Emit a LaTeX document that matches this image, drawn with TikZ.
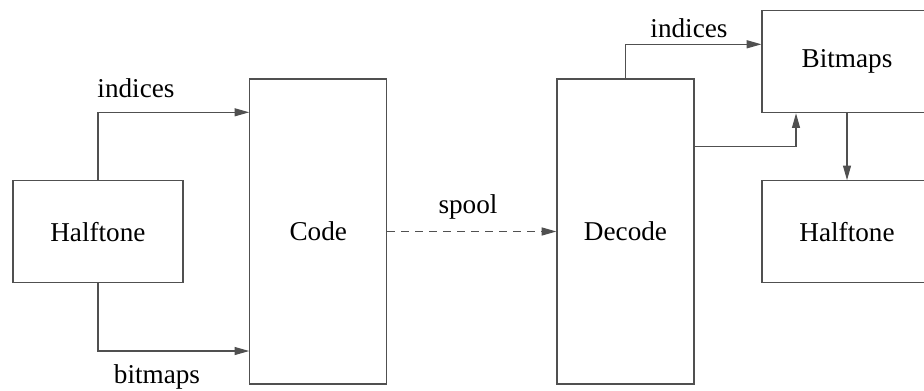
\documentclass[tikz,border=0pt]{standalone}
\usepackage{fontspec}
\setmainfont{Liberation Serif}
\usetikzlibrary{arrows.meta}

\definecolor{linegray}{RGB}{80,80,80}

\tikzset{every picture/.style={line width=0.9pt}}
\tikzset{
  block/.style={draw=linegray, inner sep=0pt, font=\fontsize{20.4}{24}\selectfont},
  flow/.style={draw=linegray, -{Triangle[length=11pt,width=6pt]}},
  lbl/.style={inner sep=0.75pt, font=\fontsize{20.4}{24}\selectfont}
}

\begin{document}
\begin{tikzpicture}[x=0.75pt,y=0.75pt,yscale=-1,xscale=1]
\useasboundingbox (0,0) rectangle (924,390);

% Boxes
\node [block, minimum width=127.5pt, minimum height=76.5pt] (halftoneA) at (97.9,231.7) {Halftone};
\node [block, minimum width=102.75pt, minimum height=228.75pt] (code) at (318.3,231.5) {Code};
\node [block, minimum width=102.75pt, minimum height=228.75pt] (decode) at (625.5,231.5) {Decode};
\node [block, minimum width=127.5pt, minimum height=76.5pt] (bitmaps) at (847,61.7) {Bitmaps};
\node [block, minimum width=127.5pt, minimum height=76.5pt] (halftoneB) at (847,231.8) {Halftone};

% Coder side
\draw [flow] (halftoneA.north) |- (code.west |- 0,112.3);
\draw [flow] (halftoneA.south) |- (code.west |- 0,351);
\draw [flow, dash pattern=on 6pt off 4.5pt] (code.east) -- (decode.west);

% Decoder side
\draw [flow] (decode.north) |- (bitmaps.west |- 0,44.3);
\draw [flow] (decode.east |- 0,146.7) -| (bitmaps.south -| 796,0);
\draw [flow] (bitmaps.south) -- (halftoneB.north);

% Text Node
\node [lbl] (idxA) at (136,88) {indices};
% Text Node
\node [lbl] (bmpA) at (157,377) {bitmaps};
% Text Node
\node [lbl] (spool) at (468,207) {spool};
% Text Node
\node [lbl] (idxB) at (689,28) {indices};

\end{tikzpicture}
\end{document}
